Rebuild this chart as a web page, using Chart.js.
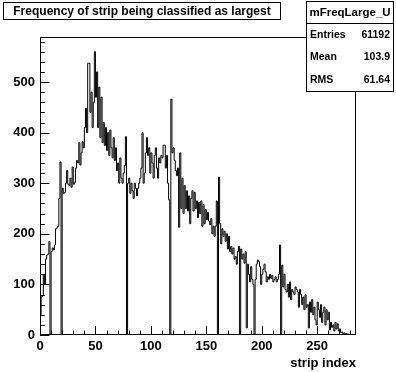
<!DOCTYPE html>
<html><head><meta charset="utf-8">
<script src="https://cdn.jsdelivr.net/npm/chart.js@4.4.0/dist/chart.umd.min.js"></script>
<style>html,body{margin:0;padding:0;background:#fff;overflow:hidden}</style>
</head><body>
<canvas id="c" width="396" height="372"></canvas>
<script>
// ---- data ----
const binCounts = [
 40,75,78,120,100,150,158,160,185,0,
 165,172,168,178,210,212,215,270,342,0,
 290,280,282,300,325,298,296,310,292,332,
 298,302,330,345,340,380,336,360,382,370,
 410,448,400,537,537,440,480,410,460,560,
 470,520,410,490,390,470,380,420,375,410,
 365,400,355,405,370,350,390,345,370,325,
 340,300,350,310,300,320,335,392,0,300,
 310,280,300,285,270,300,290,275,290,300,
 310,330,400,300,320,360,390,355,370,320,
 360,340,310,355,370,330,310,350,340,355,
 350,375,375,330,355,300,267,0,466,360,
 370,345,325,315,330,213,360,250,310,240,
 295,250,285,245,275,220,270,285,245,282,
 250,265,232,262,240,265,215,258,220,248,
 228,242,225,218,230,200,215,195,215,265,
 0,312,220,180,210,195,205,185,200,170,
 195,165,175,160,172,150,155,140,165,175,
 0,170,150,160,142,165,14,140,120,105,
 135,110,100,0,110,140,148,145,135,100,
 120,130,140,125,105,115,110,120,112,118,
 105,110,115,105,110,120,178,0,138,95,
 120,90,85,100,75,105,70,90,85,80,
 95,90,85,55,90,80,60,75,50,80,
 55,60,14,65,45,70,40,55,30,20,
 65,50,35,60,25,45,55,20,50,30,
 45,10,25,15,20,8,25,12,22,8,
 12,5,6,3,4,2,3,1,2,1,
 0,0,0,0,0
];
const xMin = 0, xMax = 285;
const yMin = 0, yMax = 589;
const xTickLabels = ["0","50","100","150","200","250"];
const yTickLabels = ["0","100","200","300","400","500"];
const titleText = "Frequency of strip being classified as largest";
const statsName = "mFreqLarge_U";
const statsLabels = ["Entries", "Mean", "RMS"];
const statsValues = ["61192", "103.9", "61.64"];
const xAxisTitle = "strip index";

// ---- build the step outline from the bins ----
const points = [{x: xMin, y: 0}];
binCounts.forEach((v, i) => points.push({x: xMin + i, y: v}));
points.push({x: xMin + binCounts.length, y: 0});

const FONT = "'Liberation Sans', Arial, Helvetica, sans-serif";

const rootDecor = {
  id: 'rootDecor',
  afterDatasetsDraw(chart) {
    const {ctx, chartArea: a, scales: {x, y}} = chart;
    ctx.save();
    ctx.strokeStyle = '#000';
    ctx.lineWidth = 1;
    ctx.strokeRect(Math.round(a.left) + 0.5, Math.round(a.top) + 0.5,
                   Math.round(a.right - a.left) - 1, Math.round(a.bottom - a.top) - 1);
    ctx.beginPath();
    for (let v = 0; v <= xMax; v += 10) {
      const px = Math.round(x.getPixelForValue(v)) + 0.5;
      const len = (v % 50 === 0) ? 9 : 4.5;
      ctx.moveTo(px, a.bottom);
      ctx.lineTo(px, a.bottom - len);
    }
    for (let v = 0; v <= yMax; v += 20) {
      const py = Math.round(y.getPixelForValue(v)) + 0.5;
      const len = (v % 100 === 0) ? 9.5 : 4.75;
      ctx.moveTo(a.left, py);
      ctx.lineTo(a.left + len, py);
    }
    ctx.stroke();
    ctx.restore();
  },
  afterDraw(chart) {
    const ctx = chart.ctx;
    ctx.save();
    ctx.fillStyle = '#fff';
    ctx.strokeStyle = '#000';
    ctx.lineWidth = 1;
    // title box
    ctx.fillRect(3, 2, 278, 18);
    ctx.strokeRect(3.5, 2.5, 277, 17);
    ctx.fillStyle = '#000';
    ctx.font = "bold 12px " + FONT;
    ctx.textAlign = 'center';
    ctx.textBaseline = 'middle';
    ctx.fillText(titleText, 142, 11.5);
    // stats box
    const bx = 306, by = 1, bw = 88, bh = 91;
    ctx.fillStyle = '#fff';
    ctx.fillRect(bx, by, bw, bh);
    ctx.strokeRect(bx + 0.5, by + 0.5, bw - 1, bh - 1);
    ctx.beginPath();
    ctx.moveTo(bx, 23.5); ctx.lineTo(bx + bw, 23.5);
    ctx.stroke();
    ctx.fillStyle = '#000';
    ctx.font = "bold 11.5px " + FONT;
    ctx.textAlign = 'center';
    ctx.fillText(statsName, bx + bw / 2, 12.5);
    ctx.font = "bold 10.5px " + FONT;
    const rowY = [35, 57.5, 80];
    statsLabels.forEach((lab, i) => {
      ctx.textAlign = 'left';
      ctx.fillText(lab, bx + 4, rowY[i]);
      ctx.textAlign = 'right';
      ctx.fillText(statsValues[i], bx + bw - 4, rowY[i]);
    });
    ctx.restore();
  }
};

new Chart(document.getElementById('c'), {
  type: 'line',
  data: {
    datasets: [{
      data: points,
      stepped: 'before',
      borderColor: '#000',
      borderWidth: 1,
      pointRadius: 0,
      fill: false,
      tension: 0
    }]
  },
  options: {
    responsive: false,
    animation: false,
    devicePixelRatio: 1,
    layout: {padding: {left: 0, right: 40, top: 37, bottom: 0}},
    plugins: {legend: {display: false}, tooltip: {enabled: false}, title: {display: false}},
    scales: {
      x: {
        type: 'linear', min: xMin, max: xMax,
        grid: {display: false, drawTicks: false},
        border: {display: false},
        ticks: {
          stepSize: 50, includeBounds: false, padding: 4, maxRotation: 0, autoSkip: false,
          color: '#000', font: {family: FONT, size: 13, weight: 'bold'},
          callback: (v) => { const s = String(v); return xTickLabels.includes(s) ? s : ''; }
        },
        title: {display: true, text: xAxisTitle, align: 'end', color: '#000',
                font: {family: FONT, size: 13, weight: 'bold'}, padding: {top: 2, bottom: 1}},
        afterFit: (s) => { s.height = 37; }
      },
      y: {
        type: 'linear', min: yMin, max: yMax,
        grid: {display: false, drawTicks: false},
        border: {display: false},
        ticks: {
          stepSize: 100, includeBounds: false, padding: 5,
          color: '#000', font: {family: FONT, size: 13, weight: 'bold'},
          callback: (v) => { const s = String(v); return yTickLabels.includes(s) ? s : ''; }
        },
        afterFit: (s) => { s.width = 40; }
      }
    }
  },
  plugins: [rootDecor]
});
</script>
</body></html>
